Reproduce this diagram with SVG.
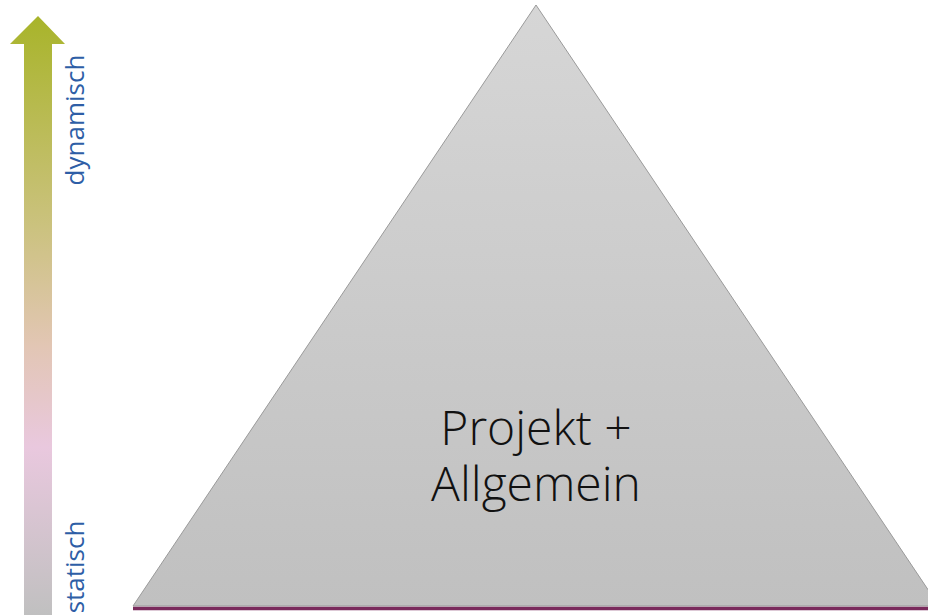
<svg xmlns="http://www.w3.org/2000/svg" width="928" height="615" viewBox="0 0 928 615">
  <defs>
    <linearGradient id="arrowFill" x1="0" y1="16" x2="0" y2="615" gradientUnits="userSpaceOnUse">
      <stop offset="0" stop-color="#a8b42a"/>
      <stop offset="0.35" stop-color="#cbc27e"/>
      <stop offset="0.55" stop-color="#e2c6b4"/>
      <stop offset="0.72" stop-color="#e9c8de"/>
      <stop offset="1" stop-color="#c0c0c0"/>
    </linearGradient>
    <linearGradient id="pyramidFill" x1="0" y1="5" x2="0" y2="606" gradientUnits="userSpaceOnUse">
      <stop offset="0" stop-color="#d6d6d6"/>
      <stop offset="1" stop-color="#c0c0c0"/>
    </linearGradient>
    <style>
      .axis-label { font-family: "Open Sans", "Noto Sans", sans-serif; font-size: 26px; fill: #2e5ea6; }
      .pyramid-label { font-family: "Open Sans", "Noto Sans", sans-serif; font-weight: 300; font-size: 48px; fill: #111; text-anchor: middle; }
    </style>
  </defs>

  <!-- vertical scale arrow -->
  <g id="scale-arrow">
    <polygon points="38,16 65,44 52,44 52,615 24,615 24,44 10,44" fill="url(#arrowFill)"/>
  </g>

  <g id="label-dynamisch">
    <text class="axis-label" transform="translate(84,120) rotate(-90)" text-anchor="middle">dynamisch</text>
  </g>
  <g id="label-statisch">
    <text class="axis-label" transform="translate(84,567) rotate(-90)" text-anchor="middle">statisch</text>
  </g>

  <!-- pyramid -->
  <g id="pyramid">
    <polygon points="536,5 939,606 133,606" fill="url(#pyramidFill)" stroke="#9a9a9a" stroke-width="1"/>
    <line x1="133" y1="608.5" x2="928" y2="608.5" stroke="#7a2a5c" stroke-width="3.5"/>
    <text class="pyramid-label" x="536" y="445">Projekt +</text>
    <text class="pyramid-label" x="536" y="501">Allgemein</text>
  </g>
</svg>
